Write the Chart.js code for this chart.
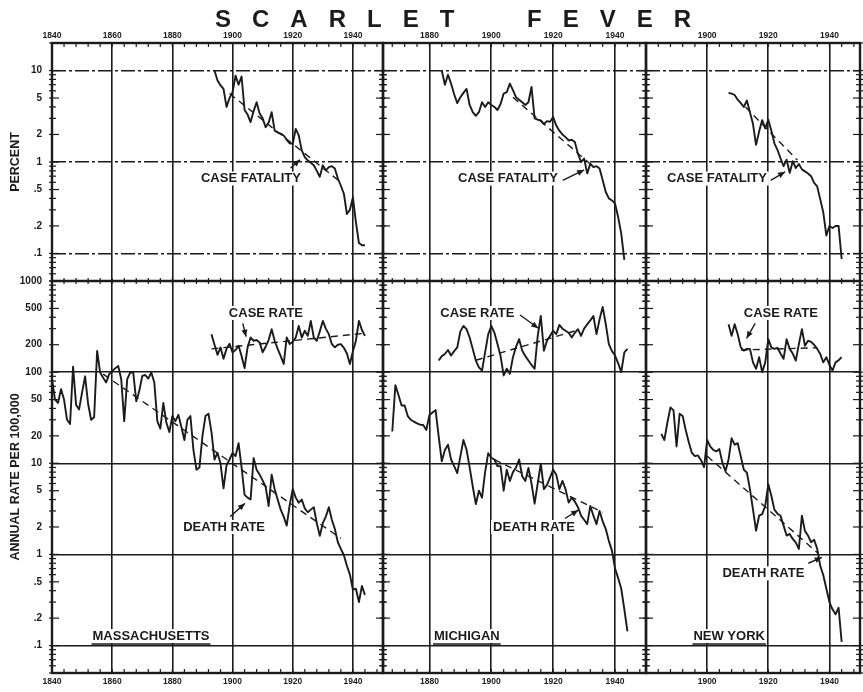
<!DOCTYPE html>
<html lang="en">
<head>
<meta charset="UTF-8">
<title>Scarlet Fever</title>
<style>
  body { margin: 0; background: #fff; }
  #wrap { position: relative; width: 863px; height: 692px; }
  #wrap canvas { position: absolute; left: 0; top: 0; }
  #titulo {
    position: absolute; left: 215px; top: 7px;
    font: bold 24px "Liberation Sans", Arial, sans-serif;
    line-height: 24px; letter-spacing: 21px; word-spacing: 24px;
    color: #1b1b1b; white-space: nowrap;
  }
</style>
</head>
<body>
<div id="wrap">
  <canvas id="ma" width="863" height="692"></canvas>
  <canvas id="mi" width="863" height="692"></canvas>
  <canvas id="ny" width="863" height="692"></canvas>
  <div id="titulo">SCARLET FEVER</div>
</div>

<script src="https://cdn.jsdelivr.net/npm/chart.js"></script>
<script>
const ink = '#1b1b1b'

// tick labels
const percentTicks = [0.1, 0.2, 0.5, 1, 2, 5, 10]
const rateTicks = [0.1, 0.2, 0.5, 1, 2, 5, 10, 20, 50, 100, 200, 500, 1000]
const maYearLabels = [1840, 1860, 1880, 1900, 1920, 1940]
const miYearLabels = [1880, 1900, 1920, 1940]
const nyYearLabels = [1900, 1920, 1940]

// Massachusetts (annual values, first year given)
const maDeathFrom = 1840
const maDeath = [
  84, 50, 46, 65, 50, 30, 27, 115, 44, 39,
  60, 90, 45, 30, 32, 171, 99, 87, 77, 95,
  103, 110, 117, 84, 29, 84, 99, 99, 48, 62,
  91, 93, 85, 99, 77, 29, 24, 46, 28, 22,
  33, 29, 34, 25, 18, 30, 33, 14, 8.5, 9,
  20, 33, 35, 22, 11, 13, 10, 5.3, 9.5, 11,
  13, 12, 16.6, 9, 4.5, 4.2, 4.0, 11.4, 8.5, 7.5,
  6.5, 5.5, 3.4, 7.5, 5.2, 4.0, 3.1, 2.6, 2.07, 3.5,
  5.2, 4.2, 3.7, 4.0, 3.2, 2.9, 3.1, 3.3, 2.2, 1.6,
  2.2, 2.6, 3.3, 2.4, 1.9, 1.36, 1.15, 0.98, 0.75, 0.6,
  0.41, 0.42, 0.30, 0.45, 0.36
]
const maCaseFrom = 1893
const maCase = [
  261, 200, 155, 187, 140, 180, 205, 165, 175, 195,
  150, 111, 187, 240, 221, 225, 212, 165, 190, 225,
  296, 221, 180, 150, 123, 240, 203, 215, 240, 321,
  240, 284, 250, 365, 240, 221, 280, 365, 300, 261,
  203, 187, 200, 203, 185, 160, 123, 170, 221, 365,
  290, 250
]
const maFatalFrom = 1894
const maFatal = [
  10.0, 7.8, 6.9, 6.3, 4.0, 5.0, 5.8, 8.8, 7.0, 8.6,
  3.7, 3.3, 2.73, 3.6, 4.5, 3.4, 3.0, 2.4, 2.7, 3.5,
  2.2, 2.1, 2.04, 1.95, 1.75, 1.6, 1.58, 2.3, 1.95, 1.34,
  1.13, 1.04, 0.98, 0.92, 0.8, 0.69, 0.92, 0.81, 0.88, 0.9,
  0.85, 0.66, 0.55, 0.45, 0.27, 0.3, 0.41, 0.22, 0.13, 0.123,
  0.123
]
const maDeathTrend = [[1857, 95], [1936, 1.5]]
const maCaseTrend = [[1893, 180], [1943, 265]]
const maFatalTrend = [[1899, 5.6], [1936, 0.6]]

// Michigan
const miDeathFrom = 1868
const miDeath = [
  22.3, 72, 56, 43, 43, 33, 30, 28.6, 27.4, 26.5,
  26.3, 23.2, 33.8, 36, 38.3, 19.6, 10.5, 14, 16, 11,
  9.3, 7.8, 11.9, 18, 14.1, 9, 5.6, 3.56, 5.0, 4.2,
  8, 12.9, 11.5, 11, 9.3, 9.3, 5.0, 8.5, 6.4, 8,
  9, 11, 7.2, 6.4, 8.9, 6, 3.6, 6, 9.9, 5.2,
  5.8, 7, 8.5, 7.5, 5.2, 6.4, 5.2, 3.7, 4.2, 3.8,
  3.3, 2.66, 2.4, 2.15, 3.4, 2.66, 2.15, 3.0, 2.3, 1.9,
  1.4, 1.1, 0.7, 0.55, 0.42, 0.25, 0.143
]
const miCaseFrom = 1883
const miCase = [
  134, 150, 158, 175, 152, 170, 187, 280, 321, 296,
  240, 180, 134, 113, 104, 165, 260, 321, 272, 203,
  150, 92, 109, 96, 146, 190, 230, 172, 150, 134,
  120, 109, 250, 413, 172, 221, 250, 284, 261, 330,
  300, 284, 270, 240, 270, 296, 250, 300, 335, 370,
  413, 261, 380, 520, 335, 203, 170, 152, 125, 100,
  165, 180
]
const miFatalFrom = 1884
const miFatal = [
  10, 7.0, 9.0, 7.2, 5.5, 4.4, 5.1, 5.7, 6.3, 4.2,
  3.5, 3.2, 3.5, 4.5, 4.0, 4.5, 4.2, 4.0, 3.7, 4.3,
  5.6, 5.8, 7.2, 6.1, 5.1, 4.8, 4.5, 4.2, 4.5, 6.6,
  3.0, 2.9, 2.85, 2.6, 2.8, 2.75, 3.1, 2.5, 2.2, 2.0,
  1.87, 1.72, 1.75, 1.65, 1.23, 1.0, 1.09, 0.75, 0.96, 0.88,
  0.9, 0.85, 0.63, 0.47, 0.4, 0.38, 0.35, 0.25, 0.165, 0.085
]
const miDeathTrend = [[1901, 11], [1936, 2.9]]
const miCaseTrend = [[1895, 135], [1928, 290]]
const miFatalTrend = [[1907, 5.1], [1932, 0.95]]

// New York
const nyDeathFrom = 1885
const nyDeath = [
  21, 18, 28, 41, 38, 15.3, 35, 33, 23, 17,
  13, 12, 12.2, 10.8, 9.1, 18, 15.3, 14, 13.5, 14.3,
  10.1, 8.2, 11, 18.8, 16, 16.6, 11.9, 8.5, 7.9, 5.2,
  3.1, 1.82, 2.66, 2.77, 3.4, 5.9, 4.4, 3.1, 2.8, 2.66,
  2.07, 1.61, 1.68, 1.48, 1.35, 1.15, 2.66, 1.8, 1.61, 1.36,
  1.45, 1.15, 0.75, 0.59, 0.42, 0.3, 0.25, 0.22, 0.26, 0.11
]
const nyCaseFrom = 1907
const nyCase = [
  335, 250, 335, 261, 187, 172, 180, 180, 128, 109,
  146, 100, 128, 230, 187, 180, 185, 160, 140, 230,
  180, 160, 134, 203, 296, 195, 221, 215, 200, 180,
  158, 128, 146, 120, 104, 128, 135, 146
]
const nyFatalFrom = 1907
const nyFatal = [
  5.7, 5.6, 5.4, 4.8, 4.4, 4.0, 4.7, 3.5, 2.6, 1.54,
  2.15, 2.87, 2.33, 2.9, 2.2, 1.6, 1.36, 1.1, 0.9, 1.06,
  0.76, 1.02, 0.86, 0.95, 0.83, 0.79, 0.75, 0.7, 0.59, 0.54,
  0.39, 0.28, 0.157, 0.2, 0.19, 0.2, 0.2, 0.087
]
const nyDeathTrend = [[1900, 12], [1936, 1.05]]
const nyCaseTrend = [[1911, 175], [1936, 185]]
const nyFatalTrend = [[1912.5, 4.0], [1929.5, 1.05]]

const fontFam = '"Liberation Sans", Arial, sans-serif'

const annual = (from, vals) => vals.map((v, i) => ({ x: from + i, y: v }))
const pairs = arr => arr.map(p => ({ x: p[0], y: p[1] }))
const isDecade = v => Math.abs(Math.log10(v) - Math.round(Math.log10(v))) < 1e-9
const tickText = v => v < 1 ? String(v).replace(/^0/, '') : String(v)

// inward tick marks and the heavy panel frame
const frame = {
    id: 'frame',
    afterDraw(chart) {
        const { ctx, chartArea: a, scales } = chart
        const mid = scales.yTop.bottom
        const seg = (x1, y1, x2, y2) => { ctx.beginPath(); ctx.moveTo(x1, y1); ctx.lineTo(x2, y2); ctx.stroke() }
        ctx.save()
        ctx.strokeStyle = ink
        ctx.lineWidth = 1.2
        scales.x.ticks.forEach(t => {
            const px = scales.x.getPixelForValue(t.value)
            if (px < a.left + 2 || px > a.right - 2) return
            seg(px, a.top, px, a.top + 4)
            seg(px, a.bottom, px, a.bottom - 4)
            seg(px, mid - 3, px, mid + 3)
        })
        ;['yTop', 'yBot'].forEach(id => {
            const s = scales[id]
            for (let k = Math.floor(Math.log10(s.min)); k <= Math.ceil(Math.log10(s.max)); k++) {
                for (let m = 1; m <= 9; m++) {
                    const v = m * Math.pow(10, k)
                    if (v < s.min || v > s.max) continue
                    const py = s.getPixelForValue(v)
                    const len = (m === 1 || m === 2 || m === 5) ? 7 : 4
                    seg(a.left - 3, py, a.left + len, py)
                    seg(a.right - len, py, a.right + 3, py)
                }
            }
        })
        ctx.lineWidth = 2.4
        ctx.strokeRect(a.left, a.top, a.width, a.height)
        seg(a.left, mid, a.right, mid)
        ctx.restore()
    }
}

// hand lettered labels with arrows
const notesPlugin = items => ({
    id: 'notes',
    afterDatasetsDraw(chart) {
        const { ctx, scales } = chart
        ctx.save()
        ctx.font = 'bold 13px ' + fontFam
        ctx.textAlign = 'center'
        ctx.textBaseline = 'middle'
        ctx.strokeStyle = ink
        items.forEach(n => {
            const ys = scales[n.axis]
            const x = scales.x.getPixelForValue(n.at[0])
            const y = ys.getPixelForValue(n.at[1])
            const w = ctx.measureText(n.text).width
            ctx.fillStyle = '#fff'
            ctx.fillRect(x - w / 2 - 2, y - 7, w + 4, 14)
            ctx.fillStyle = ink
            ctx.fillText(n.text, x, y)
            if (n.underline) {
                ctx.lineWidth = 1.5
                ctx.beginPath()
                ctx.moveTo(x - w / 2 - 1, y + 8)
                ctx.lineTo(x + w / 2 + 1, y + 8)
                ctx.stroke()
            }
            if (n.arrow) {
                const x0 = scales.x.getPixelForValue(n.arrow[0][0])
                const y0 = ys.getPixelForValue(n.arrow[0][1])
                const x1 = scales.x.getPixelForValue(n.arrow[1][0])
                const y1 = ys.getPixelForValue(n.arrow[1][1])
                const ang = Math.atan2(y1 - y0, x1 - x0)
                ctx.lineWidth = 1.4
                ctx.beginPath()
                ctx.moveTo(x0, y0)
                ctx.lineTo(x1, y1)
                ctx.stroke()
                ctx.beginPath()
                ctx.moveTo(x1, y1)
                ctx.lineTo(x1 - 7 * Math.cos(ang) + 3 * Math.sin(ang), y1 - 7 * Math.sin(ang) - 3 * Math.cos(ang))
                ctx.lineTo(x1 - 7 * Math.cos(ang) - 3 * Math.sin(ang), y1 - 7 * Math.sin(ang) + 3 * Math.cos(ang))
                ctx.closePath()
                ctx.fill()
            }
        })
        ctx.restore()
    }
})

const xScale = (pos, o) => ({
    type: 'linear', position: pos, min: o.xMin, max: o.xMax, bounds: 'data',
    afterBuildTicks: s => {
        const marks = []
        for (let y = Math.ceil(o.xMin / 4) * 4; y <= o.xMax; y += 4) marks.push({ value: y })
        s.ticks = marks
    },
    afterFit: s => { s.height = pos === 'top' ? 43 : 19 },
    grid: pos === 'bottom'
        ? { drawTicks: false, lineWidth: 1.6, color: c => (c.tick && c.tick.value % 20 === 0) ? ink : 'rgba(0,0,0,0)' }
        : { display: false, drawTicks: false },
    border: { display: false },
    ticks: {
        autoSkip: false, maxRotation: 0, padding: pos === 'top' ? 2 : 4, color: ink,
        font: { family: fontFam, size: 8.5, weight: 'bold' },
        callback: v => o.labels.includes(v) ? String(v) : ''
    }
})

const yScale = (id, o) => {
    const top = id === 'yTop'
    return {
        type: 'logarithmic', position: 'left', stack: 'rows',
        stackWeight: top ? 238 : 392, weight: top ? 1 : 0,
        min: 0.05, max: top ? 20 : 1000, bounds: 'data',
        afterBuildTicks: s => { s.ticks = (top ? percentTicks : rateTicks).map(v => ({ value: v })) },
        afterFit: s => { s.width = o.axisWidth },
        grid: { drawTicks: false, lineWidth: 1.5, color: c => (c.tick && isDecade(c.tick.value)) ? ink : 'rgba(0,0,0,0)' },
        border: { display: false, dash: top ? [14, 3, 3, 3] : [] },
        ticks: {
            display: o.showY, autoSkip: false, padding: 10, color: ink,
            font: { family: fontFam, size: 10, weight: 'bold' },
            callback: v => tickText(v)
        },
        title: {
            display: o.showY, text: top ? 'PERCENT' : 'ANNUAL RATE PER 100,000', color: ink,
            font: { family: fontFam, size: 12.5, weight: 'bold' },
            padding: { top: 8, bottom: 0 }
        }
    }
}

function makeChart(id, o) {
    const datasets = o.series.map(s => ({
        data: s.data,
        xAxisID: 'x',
        yAxisID: s.axis,
        borderColor: ink,
        borderWidth: s.trend ? 1.4 : 1.9,
        borderDash: s.trend ? [7, 5] : [],
        borderJoinStyle: 'round',
        pointRadius: 0,
        tension: 0,
        fill: false
    }))
    return new Chart(document.getElementById(id), {
        type: 'line',
        data: { datasets },
        options: {
            responsive: false,
            animation: false,
            events: [],
            layout: { padding: { left: o.padLeft, right: o.padRight, top: 0, bottom: 0 } },
            plugins: { legend: { display: false }, tooltip: { enabled: false } },
            scales: {
                x: xScale('bottom', o),
                xTop: xScale('top', o),
                yBot: yScale('yBot', o),
                yTop: yScale('yTop', o)
            }
        },
        plugins: [frame, notesPlugin(o.notes)]
    })
}

makeChart('ma', {
    xMin: 1840, xMax: 1950, labels: maYearLabels, padLeft: 0, padRight: 480, axisWidth: 52, showY: true,
    series: [
        { data: annual(maFatalFrom, maFatal), axis: 'yTop' },
        { data: pairs(maFatalTrend), axis: 'yTop', trend: true },
        { data: annual(maCaseFrom, maCase), axis: 'yBot' },
        { data: pairs(maCaseTrend), axis: 'yBot', trend: true },
        { data: annual(maDeathFrom, maDeath), axis: 'yBot' },
        { data: pairs(maDeathTrend), axis: 'yBot', trend: true }
    ],
    notes: [
        { text: 'CASE FATALITY', axis: 'yTop', at: [1906.1, 0.66], arrow: [[1919.3, 0.86], [1922.4, 1.06]] },
        { text: 'CASE RATE', axis: 'yBot', at: [1911.1, 446], arrow: [[1903.4, 343], [1904.5, 245]] },
        { text: 'DEATH RATE', axis: 'yBot', at: [1897.2, 2.0], arrow: [[1899.2, 2.59], [1904.1, 3.63]] },
        { text: 'MASSACHUSETTS', axis: 'yBot', at: [1872.9, 0.127], underline: true }
    ]
})

makeChart('mi', {
    xMin: 1865, xMax: 1950, labels: miYearLabels, padLeft: 373, padRight: 217, axisWidth: 10, showY: false,
    series: [
        { data: annual(miFatalFrom, miFatal), axis: 'yTop' },
        { data: pairs(miFatalTrend), axis: 'yTop', trend: true },
        { data: annual(miCaseFrom, miCase), axis: 'yBot' },
        { data: pairs(miCaseTrend), axis: 'yBot', trend: true },
        { data: annual(miDeathFrom, miDeath), axis: 'yBot' },
        { data: pairs(miDeathTrend), axis: 'yBot', trend: true }
    ],
    notes: [
        { text: 'CASE FATALITY', axis: 'yTop', at: [1905.4, 0.66], arrow: [[1923.1, 0.63], [1930.0, 0.82]] },
        { text: 'CASE RATE', axis: 'yBot', at: [1895.5, 446], arrow: [[1909.3, 424], [1915.2, 303]] },
        { text: 'DEATH RATE', axis: 'yBot', at: [1913.8, 2.0], arrow: [[1923.8, 2.48], [1928.1, 3.06]] },
        { text: 'MICHIGAN', axis: 'yBot', at: [1892.1, 0.127], underline: true }
    ]
})

makeChart('ny', {
    xMin: 1880, xMax: 1950, labels: nyYearLabels, padLeft: 636, padRight: 3, axisWidth: 10, showY: false,
    series: [
        { data: annual(nyFatalFrom, nyFatal), axis: 'yTop' },
        { data: pairs(nyFatalTrend), axis: 'yTop', trend: true },
        { data: annual(nyCaseFrom, nyCase), axis: 'yBot' },
        { data: pairs(nyCaseTrend), axis: 'yBot', trend: true },
        { data: annual(nyDeathFrom, nyDeath), axis: 'yBot' },
        { data: pairs(nyDeathTrend), axis: 'yBot', trend: true }
    ],
    notes: [
        { text: 'CASE FATALITY', axis: 'yTop', at: [1903.2, 0.66], arrow: [[1920.8, 0.63], [1925.5, 0.78]] },
        { text: 'CASE RATE', axis: 'yBot', at: [1924.1, 446], arrow: [[1915.7, 343], [1912.9, 235]] },
        { text: 'DEATH RATE', axis: 'yBot', at: [1918.4, 0.62], arrow: [[1933.1, 0.80], [1937.5, 0.93]] },
        { text: 'NEW YORK', axis: 'yBot', at: [1907.2, 0.127], underline: true }
    ]
})
</script>
</body>
</html>
